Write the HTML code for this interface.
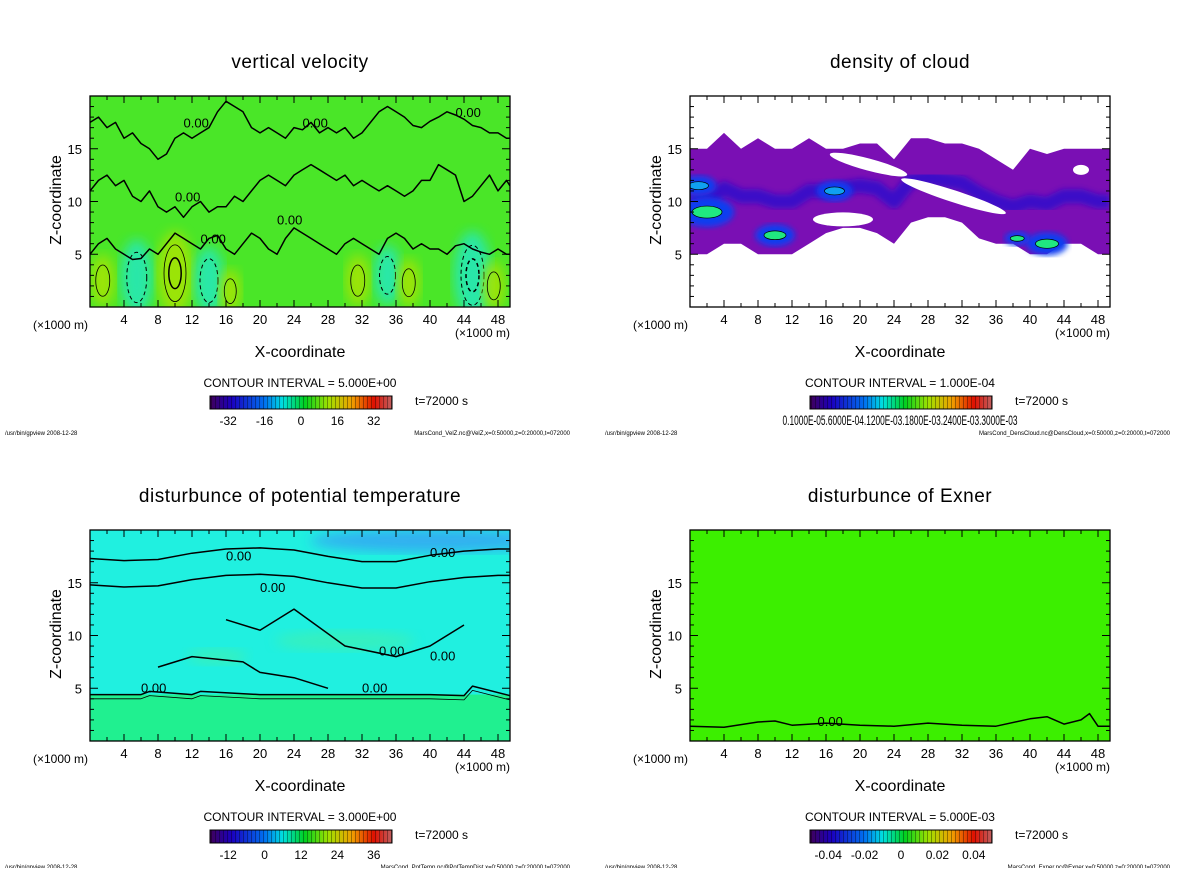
<!DOCTYPE html>
<html><head><meta charset="utf-8">
<style>
body{margin:0;background:#fff;width:1200px;height:868px;overflow:hidden;font-family:"Liberation Sans",sans-serif;}
svg text{font-family:"Liberation Sans",sans-serif;fill:#000;}
</style></head>
<body>
<svg id="fig" width="1200" height="868" xmlns="http://www.w3.org/2000/svg">
<defs>
<filter id="blur3"><feGaussianBlur stdDeviation="3"/></filter>
<filter id="blur6"><feGaussianBlur stdDeviation="6"/></filter>
<linearGradient id="rainbow" x1="0" x2="1">
<stop offset="0" stop-color="#40005a"/><stop offset="0.12" stop-color="#1a00c0"/><stop offset="0.3" stop-color="#0070f0"/><stop offset="0.4" stop-color="#00e0e0"/><stop offset="0.52" stop-color="#00d020"/><stop offset="0.65" stop-color="#a0e000"/><stop offset="0.78" stop-color="#f0a000"/><stop offset="0.9" stop-color="#e01000"/><stop offset="1" stop-color="#c06060"/>
</linearGradient>
<pattern id="stripes" width="4" height="14" patternUnits="userSpaceOnUse"><rect x="3" width="1" height="14" fill="rgba(0,0,0,0.35)"/></pattern>
</defs>
</svg>
<script>
// ---- data arrays ----
const xTicks=[4,8,12,16,20,24,28,32,36,40,44,48];
const zTicks=[5,10,15];
const titles=["vertical velocity","density of cloud","disturbunce of potential temperature","disturbunce of Exner"];
const intervals=["5.000E+00","1.000E-04","3.000E+00","5.000E-03"];
const cbLabelsVel=["-32","-16","0","16","32"];
const cbValsVel=[-32,-16,0,16,32];
const cbLabelsTemp=["-12","0","12","24","36"];
const cbValsTemp=[-12,0,12,24,36];
const cbLabelsEx=["-0.04","-0.02","0","0.02","0.04"];
const cbValsEx=[-0.04,-0.02,0,0.02,0.04];
const footers=["MarsCond_VelZ.nc@VelZ,x=0:50000,z=0:20000,t=072000","MarsCond_DensCloud.nc@DensCloud,x=0:50000,z=0:20000,t=072000","MarsCond_PotTemp.nc@PotTempDist,x=0:50000,z=0:20000,t=072000","MarsCond_Exner.nc@Exner,x=0:50000,z=0:20000,t=072000"];
const velX=[1.5,5.5,10,14,16.5,35,37.5,45,47.5,31.5];
const velZ=[2.5,2.8,3.2,2.5,1.5,3,2.3,3,2,2.5];
const velV=[6,-12,14,-10,4,-8,5,-15,5,6];
// zero-contour profiles for velocity (km)
const velLineX=[0,1,2,3,4,5,6,7,8,9,10,11,12,13,14,15,16,17,18,19,20,21,22,23,24,25,26,27,28,29,30,31,32,33,34,35,36,37,38,39,40,41,42,43,44,45,46,47,48,49,49.4];
const velLineA=[17.5,18,17,17.5,16,16.5,15.5,15,14,14.5,16,16.5,16,16.5,17,18.5,19.5,19,18.5,17,16.5,17,16.5,16,17,16.8,17.5,16.5,17,16.5,17,16,16.5,17.5,18.5,19,18.5,18,17.2,17,17.6,18,18.5,18.2,17.8,17.2,17,16.5,16.5,16,16];
const velLineB=[11,12,12.5,11.5,12,10.5,10,11,9.5,9,9.5,8.5,9.5,10,9,9.5,9.5,10.5,10,11,12,12.5,12,11.5,12.5,13,13.5,13,12.5,12,12.5,11.5,12,11.5,11,11.5,11,10.5,11,12,12,13.5,13,12.5,10,10.5,11.5,12.5,11,12,11.5];
const velLineC=[5,6,6.5,5.5,5,4.5,4.6,5.5,5,6,7,6.5,6,5.5,6.5,6.8,5.5,5,6,7,6.5,5.5,5,6.5,7.5,7,6.5,6,5.5,5,6,6.5,6,5.5,5,6.5,7,6.5,5.5,6,5.5,5.5,5,5.8,6,5.5,5.2,5,5.5,5,5];
const cloudX=[0,2,4,6,8,10,12,14,16,18,20,22,24,26,28,30,32,34,36,38,40,42,44,46,48,49.4];
const cloudTop=[15,15,16.5,15,16,15,15,16,15,15,15.5,15.5,14,16,16,15.5,15.5,15,14,13,15,14.5,15,15,15,15];
const cloudBot=[5,5,6,6,5,5,5,6,7,7.5,7.5,7,6,8,8.5,8.5,8,6.5,6,6,5,5,6,6,5,5];
const coreX=[2,10,42,38.5,1,17];
const coreZ=[9,6.8,6,6.5,11.5,11];
const coreS=[3,2.2,2.3,1.4,2,2];
const ptLowX=[0,6,7,12,13,20,28,36,40,44,45,49.4];
const ptLowZ=[4.4,4.4,4.7,4.4,4.7,4.4,4.4,4.4,4.4,4.3,5.2,4.3];
const ptUpX=[0,4,8,12,16,20,24,28,32,36,40,44,48,49.4];
const ptUpZ=[17.3,17.1,17.2,17.8,18.2,18.3,18.1,17.5,17,17,17.6,18,18.2,18.2];
const exX=[0,4,8,10,12,16,20,24,28,32,36,40,42,44,46,47,48,49.4];
const exZ=[1.4,1.3,1.8,1.9,1.5,1.7,1.5,1.4,1.7,1.5,1.4,2.1,2.3,1.6,2.0,2.6,1.4,1.4];

const NS="http://www.w3.org/2000/svg";
const svg=document.getElementById('fig');
function el(tag,attrs,parent,txt){const e=document.createElementNS(NS,tag);for(const k in attrs)e.setAttribute(k,attrs[k]);if(txt!==undefined)e.textContent=txt;(parent||svg).appendChild(e);return e;}
const panels=[{x:90,y:96},{x:690,y:96},{x:90,y:530},{x:690,y:530}];
const W=420,H=211;

panels.forEach((p,i)=>{
  const g=el('g',{});
  
  
  const sx=x=>p.x+x*8.5, sz=z=>p.y+H-z*10.55;
  const clipId='clip'+i;
  const cp=el('clipPath',{id:clipId},g);el('rect',{x:p.x,y:p.y,width:W,height:H},cp);
  const plot=el('g',{'clip-path':'url(#'+clipId+')'},g);
  
  
  const line=(xs,zs,attrs)=>{const d=xs.map((x,k)=>(k?'L':'M')+sx(x).toFixed(1)+' '+sz(zs[k]).toFixed(1)).join(' ');return el('path',Object.assign({d,fill:'none',stroke:'#000','stroke-width':1.5,'stroke-linejoin':'round'},attrs),plot);};
  if(i===0){
    el('rect',{x:p.x,y:p.y,width:W,height:H,fill:'#4ae628'},plot);
    velX.forEach((x,k)=>{
      const v=velV[k],r=Math.abs(v);
      const c=v>0?'#b0e400':'#20e8c8';
      const e=el('ellipse',{cx:sx(x),cy:sz(velZ[k]),rx:r*0.7+8,ry:r*2+14,fill:c,filter:'url(#blur6)',opacity:0.8},plot);
      
      
      el('ellipse',{cx:sx(x),cy:sz(velZ[k]),rx:r*0.5+4,ry:r*1.6+6,fill:'none',stroke:'#000','stroke-width':v>0?0.8:1,'stroke-dasharray':v>0?'':'4 3'},plot);
      if(r>12) el('ellipse',{cx:sx(x),cy:sz(velZ[k]),rx:r*0.3+2,ry:r*1.1,fill:'none',stroke:'#000','stroke-width':1.5,'stroke-dasharray':v>0?'':'4 3'},plot);
    });
    [velLineA,velLineB,velLineC].forEach(arr=>{const l=line(velLineX,arr,{});});
    [[10,10],[22,7.8],[11,17],[25,17],[43,18],[13,6]].forEach(a=>el('text',{x:sx(a[0]),y:sz(a[1]),'font-size':13},plot,'0.00'));
  } else if(i===1){
    el('rect',{x:p.x,y:p.y,width:W,height:H,fill:'#fff'},plot);
    const top=cloudX.map((x,k)=>sx(x).toFixed(1)+','+sz(cloudTop[k]).toFixed(1));
    const bot=cloudX.map((x,k)=>sx(x).toFixed(1)+','+sz(cloudBot[k]).toFixed(1)).reverse();
    const band=el('polygon',{points:top.concat(bot).join(' '),fill:'#7a0fb4'},plot);
    
    
    line(cloudX,cloudX.map((x,k)=>(cloudTop[k]+cloudBot[k])/2),{stroke:'#3a10c8','stroke-width':14,filter:'url(#blur3)'});
    el('ellipse',{cx:sx(21),cy:sz(13.5),rx:40,ry:6,fill:'#fff',transform:'rotate(15 '+sx(21)+' '+sz(13.5)+')'},plot);
    el('ellipse',{cx:sx(31),cy:sz(10.5),rx:55,ry:6,fill:'#fff',transform:'rotate(18 '+sx(31)+' '+sz(10.5)+')'},plot);
    el('ellipse',{cx:sx(18),cy:sz(8.3),rx:30,ry:7,fill:'#fff'},plot);
    el('ellipse',{cx:sx(46),cy:sz(13),rx:8,ry:5,fill:'#fff'},plot);
    coreX.forEach((x,k)=>{
      const s=coreS[k];
      const c=el('ellipse',{cx:sx(x),cy:sz(coreZ[k]),rx:s*9,ry:s*5,fill:'#0a3cf0',filter:'url(#blur3)'},plot);
      
      
      el('ellipse',{cx:sx(x),cy:sz(coreZ[k]),rx:s*5,ry:s*2,fill:k<4?'#20e880':'#10a0f0',stroke:'#000','stroke-width':0.7},plot);
    });
  } else if(i===2){
    el('rect',{x:p.x,y:p.y,width:W,height:H,fill:'#20f0e0'},plot);
    el('rect',{x:p.x,y:sz(4.4),width:W,height:60,fill:'#20f090'},plot);
    el('ellipse',{cx:sx(40),cy:sz(19),rx:120,ry:12,fill:'#30b0f0',filter:'url(#blur6)'},plot);
    el('ellipse',{cx:sx(30),cy:sz(9.5),rx:70,ry:10,fill:'#40f0b0',filter:'url(#blur6)',opacity:0.7},plot);
    el('ellipse',{cx:sx(15),cy:sz(8),rx:30,ry:8,fill:'#40f0b0',filter:'url(#blur6)',opacity:0.7},plot);
    const l=line(ptLowX,ptLowZ,{});
    
    
    line(ptLowX,ptLowZ.map(z=>z-0.4),{'stroke-width':0.8});
    const u=line(ptUpX,ptUpZ,{});
    
    
    line(ptUpX,ptUpZ.map(z=>z-2.5),{});
    line([16,20,24,30,36,40,44],[11.5,10.5,12.5,9,8,9,11],{});
    line([8,12,18,20,24,28],[7,8,7.5,6.5,6,5],{});
    [[6,5],[32,5],[16,17.5],[40,17.8],[20,14.5],[34,8.5],[40,8]].forEach(a=>el('text',{x:sx(a[0]),y:sz(a[1])+4,'font-size':13},plot,'0.00'));
  } else {
    el('rect',{x:p.x,y:p.y,width:W,height:H,fill:'#3cef00'},plot);
    const l=line(exX,exZ,{});
    
    
    el('text',{x:sx(15),y:sz(1.8)+4,'font-size':13},plot,'0.00');
  }
  const fr=el('rect',{x:p.x,y:p.y,width:W,height:H,fill:'none',stroke:'#000','stroke-width':1.3},g);
  
  
  for(let x=2;x<50;x+=2){const L=x%4===0?7:4;el('line',{x1:sx(x),x2:sx(x),y1:p.y+H,y2:p.y+H-L,stroke:'#000'},g);el('line',{x1:sx(x),x2:sx(x),y1:p.y,y2:p.y+L,stroke:'#000'},g);}
  for(let z=1;z<20;z++){const L=z%5===0?8:4;el('line',{x1:p.x,x2:p.x+L,y1:sz(z),y2:sz(z),stroke:'#000'},g);el('line',{x1:p.x+W,x2:p.x+W-L,y1:sz(z),y2:sz(z),stroke:'#000'},g);}
  xTicks.forEach(x=>{const t=el('text',{x:sx(x),y:p.y+H+17,'font-size':13,'text-anchor':'middle'},g,String(x));});
  zTicks.forEach(z=>{const t=el('text',{x:p.x-8,y:sz(z)+5,'font-size':13,'text-anchor':'end'},g,String(z));});
  el('text',{x:p.x-57,y:p.y+H+22,'font-size':12},g,'(×1000 m)');
  el('text',{x:p.x+365,y:p.y+H+30,'font-size':12},g,'(×1000 m)');
  const xl=el('text',{x:p.x+210,y:p.y+H+50,'font-size':16,'text-anchor':'middle'},g,'X-coordinate');
  
  const yl=el('text',{x:0,y:0,'font-size':16,'text-anchor':'middle',transform:'translate('+(p.x-29)+','+(p.y+104)+') rotate(-90)'},g,'Z-coordinate');
  
  const tt=el('text',{x:p.x+210,y:p.y-28,'font-size':19,'text-anchor':'middle','letter-spacing':'0.5'},g,titles[i]);
  
  const ci=el('text',{x:p.x+210,y:p.y+H+80,'font-size':12,'text-anchor':'middle'},g,'CONTOUR INTERVAL = '+intervals[i]);
  
  const cbx=p.x+120,cby=p.y+H+89,cbw=182,cbh=13;
  const cb=el('rect',{x:cbx,y:cby,width:cbw,height:cbh,fill:'url(#rainbow)',stroke:'#000'},g);
  
  el('rect',{x:cbx,y:cby,width:cbw,height:cbh,fill:'url(#stripes)'},g);
  el('text',{x:p.x+325,y:p.y+H+98,'font-size':12},g,'t=72000 s');
  const labs=[cbLabelsVel,null,cbLabelsTemp,cbLabelsEx][i];
  const vals=[cbValsVel,null,cbValsTemp,cbValsEx][i];
  if(labs){
    const lo=[-40,0,-18,-0.05][i],hi=[40,0,42,0.05][i];
    labs.forEach((s,k)=>el('text',{x:cbx+(vals[k]-lo)/(hi-lo)*cbw,y:cby+29,'font-size':12,'text-anchor':'middle'},g,s));
  } else {
    el('text',{x:cbx+90,y:cby+29,'font-size':14,'text-anchor':'middle','textLength':235,'lengthAdjust':'spacingAndGlyphs'},g,'0.1000E-05.6000E-04.1200E-03.1800E-03.2400E-03.3000E-03');
  }
  el('text',{x:p.x-85,y:p.y+H+128,'font-size':6},g,'/usr/bin/gpview   2008-12-28');
  el('text',{x:p.x+480,y:p.y+H+128,'font-size':6,'text-anchor':'end'},g,footers[i]);
});
</script>
</body></html>
